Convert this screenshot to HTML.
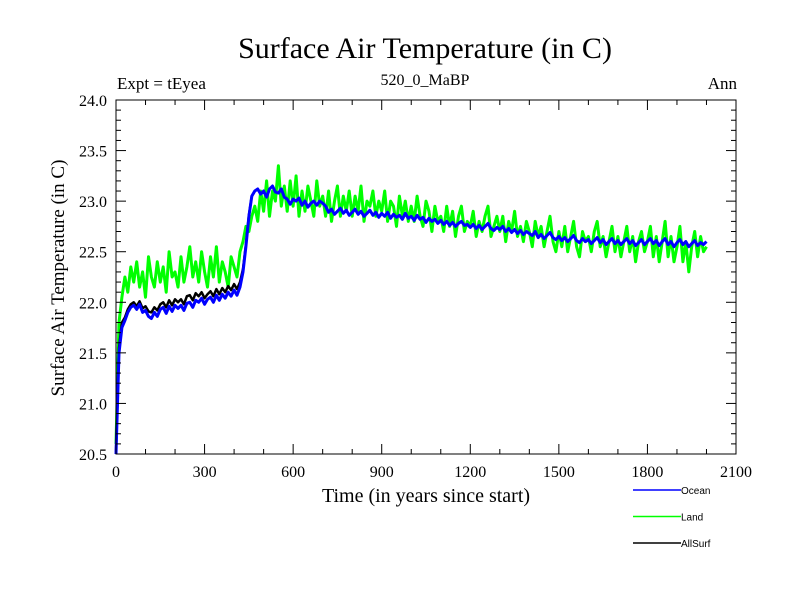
<!DOCTYPE html>
<html><head><meta charset="utf-8"><style>
body{margin:0;background:#fff}
svg{display:block}
.s{font-family:"Liberation Serif",serif}
.a{font-family:"Liberation Sans",sans-serif}
</style></head><body>
<svg id="chart" width="800" height="600" viewBox="0 0 800 600">
<rect width="800" height="600" fill="#fff"/>
<text class="s" x="425" y="58" font-size="30" text-anchor="middle">Surface Air Temperature (in C)</text>
<text class="s" x="117" y="89" font-size="17">Expt = tEyea</text>
<text class="s" x="425" y="85" font-size="16" text-anchor="middle">520_0_MaBP</text>
<text class="s" x="737" y="89" font-size="17" text-anchor="end">Ann</text>
<g id="series"></g>
<g id="axes"></g>
<text class="s" transform="translate(64,278) rotate(-90)" font-size="19" text-anchor="middle">Surface Air Temperature (in C)</text>
<text class="s" x="426" y="502" font-size="20" text-anchor="middle">Time (in years since start)</text>
<g id="legend"></g>
</svg>
<script>
const ocean=[20.50,21.50,21.75,21.82,21.90,21.95,21.97,21.93,21.98,21.90,
21.92,21.86,21.84,21.90,21.86,21.93,21.95,21.89,21.96,21.91,
21.97,21.94,21.97,21.92,21.99,22.00,21.95,22.02,22.00,22.04,
21.98,22.03,22.05,22.00,22.07,22.02,22.08,22.04,22.10,22.06,
22.12,22.07,22.15,22.30,22.55,22.85,23.05,23.10,23.12,23.07,
23.10,23.04,23.12,23.15,23.09,23.08,23.12,23.04,23.02,22.97,
23.02,23.00,23.03,22.96,23.00,22.94,22.98,23.00,22.96,23.00,
22.98,22.95,22.89,22.92,22.87,22.90,22.93,22.88,22.91,22.86,
22.89,22.92,22.87,22.90,22.85,22.88,22.91,22.86,22.89,22.84,
22.88,22.85,22.89,22.83,22.87,22.84,22.86,22.82,22.88,22.83,
22.85,22.81,22.86,22.82,22.84,22.79,22.83,22.80,22.82,22.78,
22.81,22.77,22.80,22.76,22.79,22.75,22.78,22.80,22.76,22.77,
22.74,22.77,22.73,22.76,22.72,22.75,22.78,22.73,22.71,22.74,
22.72,22.75,22.70,22.73,22.69,22.72,22.68,22.71,22.67,22.70,
22.68,22.66,22.70,22.64,22.67,22.63,22.66,22.69,22.64,22.62,
22.65,22.61,22.64,22.60,22.63,22.66,22.61,22.59,22.63,22.60,
22.62,22.58,22.61,22.64,22.59,22.62,22.57,22.60,22.63,22.58,
22.61,22.57,22.60,22.63,22.58,22.61,22.56,22.59,22.62,22.57,
22.60,22.63,22.58,22.61,22.56,22.60,22.63,22.57,22.60,22.55,
22.59,22.62,22.57,22.60,22.55,22.58,22.61,22.56,22.59,22.57,22.60];
const land=[20.60,21.80,22.05,22.25,22.10,22.35,22.20,22.40,22.15,22.30,
22.05,22.45,22.25,22.15,22.40,22.20,22.35,22.10,22.50,22.25,
22.30,22.15,22.45,22.20,22.35,22.55,22.25,22.40,22.20,22.50,
22.30,22.15,22.45,22.25,22.55,22.20,22.40,22.30,22.15,22.45,
22.35,22.25,22.50,22.60,22.75,22.70,22.85,22.95,22.80,23.10,
22.90,23.20,22.85,23.10,23.00,23.35,22.95,23.15,22.90,23.20,
22.95,23.25,22.85,23.10,22.90,23.15,23.00,22.85,23.20,22.95,
23.05,22.85,23.10,22.80,23.00,23.15,22.85,23.05,22.90,23.10,
22.85,23.05,22.90,23.15,22.80,23.00,22.95,23.10,22.85,23.00,
22.90,23.10,22.80,23.00,22.95,22.75,23.05,22.85,23.00,22.80,
22.95,22.80,23.05,22.85,22.75,23.00,22.90,22.70,22.95,22.80,
22.85,22.70,22.95,22.75,22.90,22.65,22.85,22.95,22.70,22.80,
22.75,22.90,22.65,22.80,22.70,22.85,22.95,22.65,22.75,22.85,
22.70,22.85,22.60,22.80,22.70,22.90,22.65,22.75,22.60,22.80,
22.70,22.55,22.80,22.65,22.75,22.55,22.70,22.85,22.60,22.50,
22.70,22.55,22.75,22.50,22.65,22.80,22.55,22.45,22.70,22.60,
22.65,22.50,22.70,22.80,22.55,22.65,22.45,22.60,22.75,22.50,
22.65,22.45,22.60,22.75,22.50,22.65,22.40,22.60,22.70,22.50,
22.60,22.75,22.45,22.65,22.40,22.60,22.80,22.45,22.65,22.40,
22.55,22.75,22.40,22.60,22.30,22.55,22.70,22.45,22.65,22.50,22.55];
const allsurf=[20.52,21.55,21.80,21.85,21.93,21.98,22.00,21.96,22.01,21.94,
21.96,21.91,21.90,21.95,21.92,21.98,22.00,21.95,22.02,21.97,
22.03,22.00,22.03,21.98,22.06,22.07,22.02,22.09,22.06,22.10,
22.04,22.08,22.11,22.06,22.13,22.08,22.14,22.10,22.16,22.12,
22.18,22.13,22.20,22.33,22.57,22.86,23.05,23.10,23.12,23.07,23.10];
const yearStep=10;
const xTicks=[0,300,600,900,1200,1500,1800,2100];
const yTicks=["20.5","21.0","21.5","22.0","22.5","23.0","23.5","24.0"];
const legendNames=["Ocean","Land","AllSurf"];

const X0=116,X1=736,Y0=454,Y1=100,XMAX=2100,YMIN=20.5,YMAX=24.0;
const sx=v=>X0+(v/XMAX)*(X1-X0);
const sy=v=>Y0-(v-YMIN)/(YMAX-YMIN)*(Y0-Y1);
const NS="http://www.w3.org/2000/svg";
function mk(t,a,p){const e=document.createElementNS(NS,t);for(const k in a)e.setAttribute(k,a[k]);p.appendChild(e);return e;}
const sg=document.getElementById('series');
function line(arr,col,w,name){
  const d=arr.map((v,i)=>(i?'L':'M')+sx(i*yearStep).toFixed(1)+','+sy(v).toFixed(1)).join('');
  const p=mk('path',{d:d,fill:'none',stroke:col,'stroke-width':w,'stroke-linejoin':'round'},sg);
  
  
}
line(land,'#00ff00',3,'land-line');
line(allsurf,'#000000',2.5,'allsurf-line');
line(ocean,'#0000ff',3,'ocean-line');

const ax=document.getElementById('axes');
const fr=mk('rect',{x:X0,y:Y1,width:X1-X0,height:Y0-Y1,fill:'none',stroke:'#000','stroke-width':1},ax);


for(let v=0;v<=XMAX;v+=100){
  const major=v%300===0, L=major?10:5;
  mk('line',{x1:sx(v),x2:sx(v),y1:Y0,y2:Y0-L,stroke:'#000'},ax);
  mk('line',{x1:sx(v),x2:sx(v),y1:Y1,y2:Y1+L,stroke:'#000'},ax);
}
xTicks.forEach(v=>{
  const t=mk('text',{x:sx(v),y:Y0+23,'font-size':16,'text-anchor':'middle',class:'s'},ax);
  t.textContent=v;
  
  
});
for(let i=0;i<=35;i++){
  const v=YMIN+i*0.1, major=i%5===0, L=major?10:5;
  mk('line',{x1:X0,x2:X0+L,y1:sy(v),y2:sy(v),stroke:'#000'},ax);
  mk('line',{x1:X1,x2:X1-L,y1:sy(v),y2:sy(v),stroke:'#000'},ax);
}
yTicks.forEach(s=>{
  const t=mk('text',{x:X0-9,y:sy(parseFloat(s))+6,'font-size':16,'text-anchor':'end',class:'s'},ax);
  t.textContent=s;
  
  
});
const lg=document.getElementById('legend');
const cols=['#0000ff','#00ff00','#000000'];
legendNames.forEach((n,i)=>{
  const y=490+i*26.5;
  const l=mk('line',{x1:633,x2:681,y1:y,y2:y,stroke:cols[i],'stroke-width':1.5},lg);
  
  
  const t=mk('text',{x:681,y:y+4,'font-size':10,class:'a'},lg);
  t.textContent=n;
  
  
});
</script>
</body></html>
